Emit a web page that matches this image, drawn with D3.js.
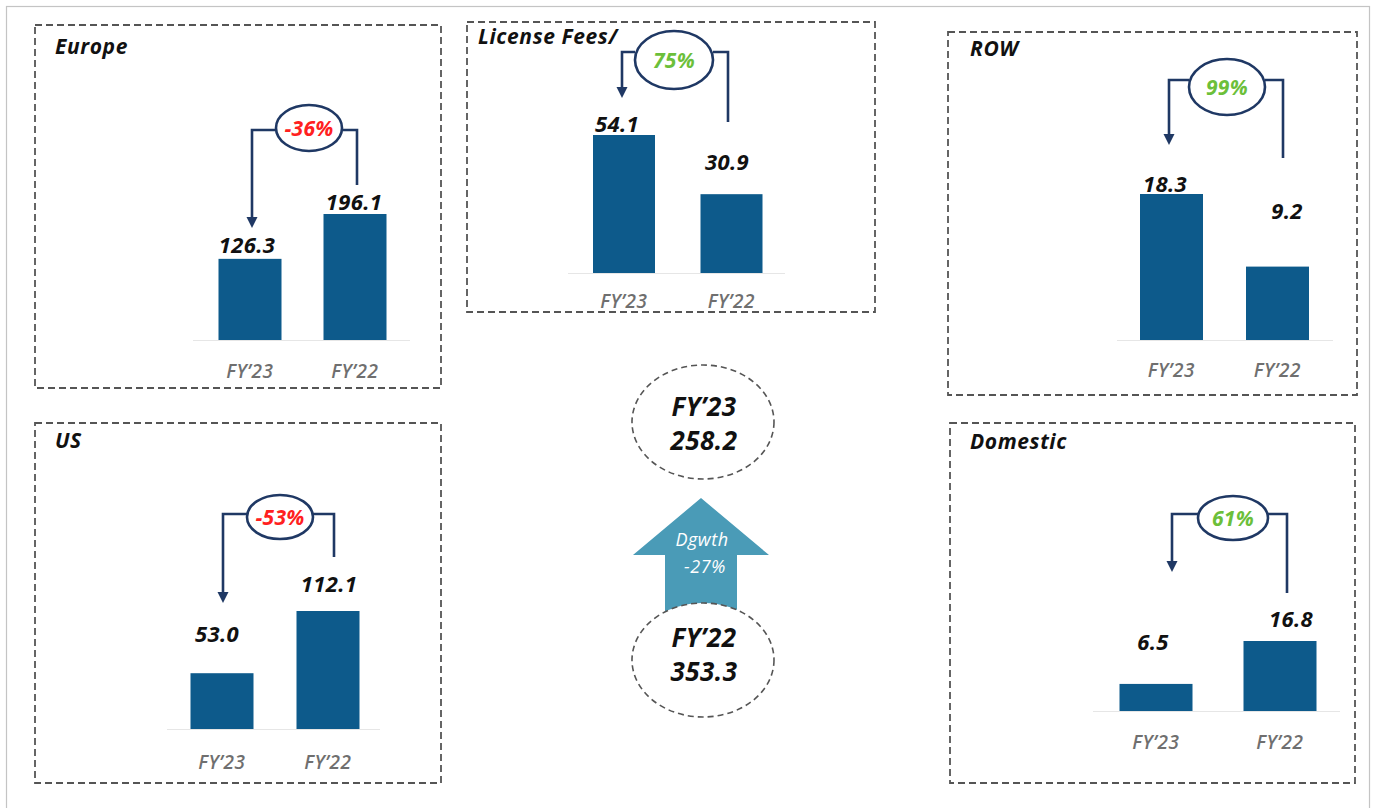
<!DOCTYPE html>
<html>
<head>
<meta charset="utf-8">
<script src="https://cdn.jsdelivr.net/npm/d3@7"></script>
<style>
  html, body { margin: 0; padding: 0; background: #fff; }
  svg { display: block; }
  text { font-family: "Open Sans", "Noto Sans", sans-serif; }
</style>
</head>
<body>
<svg id="chart" width="1374" height="808"></svg>
<script>
// ---- data ----
const regions   = ["Europe", "License Fees/", "ROW", "US", "Domestic"];
const periods   = ["FY’23", "FY’22"];
const fy23      = [126.3, 54.1, 18.3, 53.0, 6.5];
const fy22      = [196.1, 30.9, 9.2, 112.1, 16.8];
const growth    = ["-36%", "75%", "99%", "-53%", "61%"];
const totals    = [258.2, 353.3];          // FY'23, FY'22
const totalGrowthLabel = ["Dgwth", "-27%"];

// ---- panel layout (positions and sizes of each small chart) ----
const layout = [
  { box: [35, 25, 441, 388],  title: [55, 54],  centers: [250, 355],   barW: 63, base: 340, maxH: 126,
    axis: [193, 410],  catY: 378, valX: [247, 354],   valDy: [-6, -4],
    ell: [309, 128, 33, 23],  lineY: 130, left: [252, 228], right: [357, 185] },
  { box: [467, 22, 875, 312], title: [478, 44], centers: [624, 731.5], barW: 62, base: 273, maxH: 138,
    axis: [568, 785],  catY: 308, valX: [617, 727],   valDy: [-3, -24],
    ell: [674, 60, 39, 29],   lineY: 52,  left: [622, 98],  right: [728, 122] },
  { box: [948, 32, 1357, 395], title: [970, 56], centers: [1171.5, 1277.5], barW: 63, base: 340, maxH: 146,
    axis: [1117, 1333], catY: 377, valX: [1165, 1287], valDy: [-2, -48],
    ell: [1227, 87, 38, 28],  lineY: 80,  left: [1169, 145], right: [1283, 158] },
  { box: [35, 423, 441, 783],  title: [55, 448], centers: [222, 328],   barW: 63, base: 729, maxH: 118,
    axis: [167, 380],  catY: 769, valX: [217, 329],   valDy: [-31, -19],
    ell: [280, 517, 33, 22],  lineY: 514, left: [223, 603], right: [334, 557] },
  { box: [950, 423, 1355, 783], title: [970, 449], centers: [1156, 1280], barW: 73, base: 711, maxH: 70,
    axis: [1093, 1340], catY: 749, valX: [1153, 1291], valDy: [-34, -14],
    ell: [1233, 518, 35, 22], lineY: 514, left: [1172, 572], right: [1287, 593] }
];

const BAR = "#0d5a8b";
const NAVY = "#1f3864";
const RED = "#ff2020";
const GREEN = "#6cbf3a";

const svg = d3.select("#chart");

// outer frame
svg.append("rect")
  .attr("x", 6.5).attr("y", 6.5).attr("width", 1363).attr("height", 820)
  .attr("fill", "none").attr("stroke", "#c4c4c4").attr("stroke-width", 1.2);

const fmt = d3.format(".1f");

regions.forEach((name, i) => {
  const L = layout[i];
  const g = svg.append("g");
  const vals = [fy23[i], fy22[i]];

  // dashed frame
  g.append("rect")
    .attr("x", L.box[0]).attr("y", L.box[1])
    .attr("width", L.box[2] - L.box[0]).attr("height", L.box[3] - L.box[1])
    .attr("fill", "none").attr("stroke", "#555").attr("stroke-width", 1.8)
    .attr("stroke-dasharray", "7,4");

  g.append("text")
    .attr("x", L.title[0]).attr("y", L.title[1])
    .attr("font-size", 21).attr("font-weight", 700).attr("font-style", "italic")
    .attr("letter-spacing", 0.6)
    .attr("fill", "#111").text(name);

  const x = d3.scalePoint().domain(periods).range(L.centers);
  const y = d3.scaleLinear().domain([0, d3.max(vals)]).range([L.base, L.base - L.maxH]);

  // baseline
  g.append("line")
    .attr("x1", L.axis[0]).attr("x2", L.axis[1])
    .attr("y1", L.base + 0.5).attr("y2", L.base + 0.5)
    .attr("stroke", "#e6e6e6").attr("stroke-width", 1.2);

  // bars
  g.selectAll("rect.bar").data(vals).join("rect")
    .attr("class", "bar")
    .attr("x", (d, k) => x(periods[k]) - L.barW / 2)
    .attr("width", L.barW)
    .attr("y", d => y(d))
    .attr("height", d => y(0) - y(d))
    .attr("fill", BAR);

  // value labels
  g.selectAll("text.val").data(vals).join("text")
    .attr("class", "val")
    .attr("x", (d, k) => L.valX[k])
    .attr("y", (d, k) => y(d) + L.valDy[k])
    .attr("text-anchor", "middle")
    .attr("font-size", 22).attr("font-weight", 700).attr("font-style", "italic")
    .attr("letter-spacing", 0.4)
    .attr("fill", "#111").text(d => fmt(d));

  // category labels
  g.selectAll("text.cat").data(periods).join("text")
    .attr("class", "cat")
    .attr("x", d => x(d))
    .attr("y", L.catY)
    .attr("text-anchor", "middle")
    .attr("font-size", 19).attr("font-weight", 600).attr("font-style", "italic")
    .attr("letter-spacing", 0.6)
    .attr("fill", "#6f6f6f").text(d => d);

  // growth connector
  const [cx, cy, rx, ry] = L.ell;
  g.append("path")
    .attr("d", `M${cx - rx},${L.lineY} H${L.left[0]} V${L.left[1] - 9}`)
    .attr("fill", "none").attr("stroke", NAVY).attr("stroke-width", 2.6);
  g.append("path")
    .attr("d", `M${L.left[0] - 5.5},${L.left[1] - 11} L${L.left[0] + 5.5},${L.left[1] - 11} L${L.left[0]},${L.left[1]} Z`)
    .attr("fill", NAVY);
  g.append("path")
    .attr("d", `M${cx + rx},${L.lineY} H${L.right[0]} V${L.right[1]}`)
    .attr("fill", "none").attr("stroke", NAVY).attr("stroke-width", 2.6);
  g.append("ellipse")
    .attr("cx", cx).attr("cy", cy).attr("rx", rx).attr("ry", ry)
    .attr("fill", "#fff").attr("stroke", NAVY).attr("stroke-width", 2.6);
  g.append("text")
    .attr("x", cx).attr("y", cy + 7.5)
    .attr("text-anchor", "middle")
    .attr("font-size", 21).attr("font-weight", 700).attr("font-style", "italic")
    .attr("letter-spacing", 0.3)
    .attr("fill", growth[i].startsWith("-") ? RED : GREEN)
    .text(growth[i]);
});

// ---- centre summary ----
const cg = svg.append("g");
const ARROW = "#4a9bb7";
const ax = 701;
cg.append("path")
  .attr("d", `M${ax},498 L${ax + 68},555 L${ax + 36},555 L${ax + 36},612 L${ax - 36},612 L${ax - 36},555 L${ax - 68},555 Z`)
  .attr("fill", ARROW);
cg.selectAll("text.dg").data(totalGrowthLabel).join("text")
  .attr("class", "dg")
  .attr("x", (d, k) => ax + 1 + k * 3)
  .attr("y", (d, k) => 546 + k * 27)
  .attr("text-anchor", "middle")
  .attr("font-size", 18).attr("font-style", "italic").attr("font-weight", 500)
  .attr("letter-spacing", 0.5)
  .attr("fill", "#fff").text(d => d);

const circles = [
  { cy: 422, lines: [periods[0], fmt(totals[0])] },
  { cy: 660, lines: [periods[1], fmt(totals[1])] }
];
circles.forEach(c => {
  cg.append("ellipse")
    .attr("cx", 703).attr("cy", c.cy).attr("rx", 71).attr("ry", 57)
    .attr("fill", c.cy > 500 ? "#fff" : "none")
    .attr("stroke", "#555").attr("stroke-width", 1.6).attr("stroke-dasharray", "6,4");
  c.lines.forEach((t, k) => {
    cg.append("text")
      .attr("x", 704).attr("y", c.cy + k * 34 - (c.cy > 500 ? 13 : 6))
      .attr("text-anchor", "middle")
      .attr("font-size", 26).attr("font-weight", 700).attr("font-style", "italic")
      .attr("letter-spacing", 0.5)
      .attr("fill", "#111").text(t);
  });
});
</script>
</body>
</html>
